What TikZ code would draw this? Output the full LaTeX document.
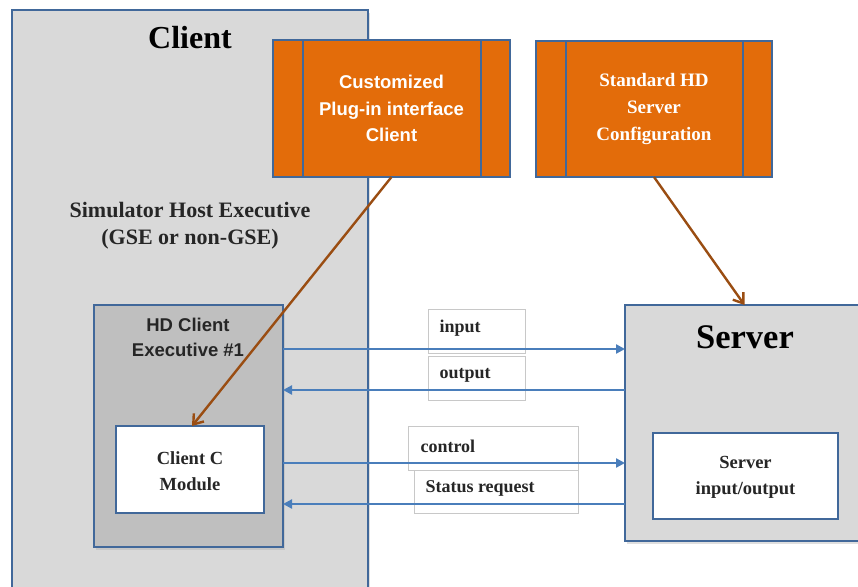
\documentclass[tikz,border=0pt]{standalone}
\usepackage{fontspec}
\setmainfont{Liberation Serif}
\setsansfont{Liberation Sans}
\usetikzlibrary{arrows.meta,shadows,calc}

\definecolor{frameblue}{HTML}{41689A}
\definecolor{linkblue}{HTML}{4A7EBB}
\definecolor{plugorange}{HTML}{E36C0A}
\definecolor{arrowbrown}{HTML}{9A4D12}
\definecolor{panelgray}{HTML}{D9D9D9}
\definecolor{execgray}{HTML}{BFBFBF}
\definecolor{labelgray}{HTML}{C8C8C8}
\definecolor{darktext}{HTML}{262626}

\tikzset{
  panel/.style={draw=frameblue, line width=2.8pt, fill=panelgray, rectangle,
    inner sep=0pt, outer sep=0pt,
    drop shadow={shadow xshift=2pt, shadow yshift=-3pt, opacity=0.25}},
  plugbox/.style={draw=frameblue, line width=2.8pt, fill=plugorange, rectangle,
    inner sep=0pt, outer sep=0pt, minimum width=237pt, minimum height=137pt},
  innerbox/.style={draw=frameblue, line width=2.8pt, fill=white, rectangle,
    inner sep=0pt, outer sep=0pt},
  tagbox/.style={draw=labelgray, line width=0.9pt, fill=white, rectangle,
    inner sep=0pt, outer sep=0pt},
  plugtext/.style={text=white, align=center, font=\sffamily\bfseries\fontsize{18.5}{26.5}\selectfont},
  stdtext/.style={text=white, align=center, font=\bfseries\fontsize{19}{27}\selectfont},
  bodytext/.style={text=darktext, align=center, font=\bfseries\fontsize{18.5}{26}\selectfont},
  tagtext/.style={text=darktext, anchor=west, font=\bfseries\fontsize{18}{20}\selectfont},
  flow/.style={draw=linkblue, line width=2.4pt, -{Triangle[length=9pt,width=9pt]}},
  feed/.style={draw=arrowbrown, line width=2.4pt, -{Straight Barb[length=9pt,width=13pt,line width=2.4pt]}},
}

\begin{document}
\begin{tikzpicture}[x=1pt,y=-1pt]
  \useasboundingbox (0,0) rectangle (858,586);
  \clip (0,0) rectangle (858,586);
  \fill[white] (0,0) rectangle (858,586);

  % client side
  \node[panel, minimum width=356pt, minimum height=590pt] (client) at (190,305) {};
  \node[font=\bfseries\fontsize{32}{36}\selectfont] (clienttitle) at (190,38) {Client};
  \node[bodytext, font=\bfseries\fontsize{22}{27}\selectfont] (simhost) at (190,226)
    {Simulator Host Executive\\(GSE or non-GSE)};

  \node[draw=frameblue, line width=2.8pt, fill=execgray, rectangle, inner sep=0pt,
    outer sep=0pt, minimum width=189pt, minimum height=242pt,
    drop shadow={shadow xshift=2pt, shadow yshift=-3pt, opacity=0.2}] (hdexec) at (188.5,426) {};
  \node[text=darktext, align=center, font=\sffamily\bfseries\fontsize{18.5}{25}\selectfont]
    (hdexectitle) at (188,337) {HD Client\\Executive \#1};
  \node[innerbox, minimum width=148pt, minimum height=87pt] (clientc) at (190,469.5) {};
  \node[bodytext] (clientctext) at (190,471) {Client C\\Module};

  % server side
  \node[panel, minimum width=245pt, minimum height=236pt] (server) at (747.5,423) {};
  \node[font=\bfseries\fontsize{34.5}{38}\selectfont] (servertitle) at (745,337) {Server};
  \node[innerbox, minimum width=185pt, minimum height=86pt] (serverio) at (745.5,476) {};
  \node[bodytext] (serveriotext) at (745.5,477) {Server\\input/output};

  % plug-in configuration blocks
  \node[plugbox] (cust) at (391.5,108.5) {};
  \draw[frameblue, line width=2.8pt]
    ([xshift=30pt]cust.north west) -- ([xshift=30pt]cust.south west)
    ([xshift=-29pt]cust.north east) -- ([xshift=-29pt]cust.south east);
  \node[plugtext] (custtext) at (391.5,108.5) {Customized\\Plug-in interface\\Client};

  \node[plugbox, minimum width=236pt, minimum height=136pt] (std) at (654,109) {};
  \draw[frameblue, line width=2.8pt]
    ([xshift=30pt]std.north west) -- ([xshift=30pt]std.south west)
    ([xshift=-29pt]std.north east) -- ([xshift=-29pt]std.south east);
  \node[stdtext] (stdtext) at (654,109) {Standard HD\\Server\\Configuration};

  % signal tags
  \node[tagbox, minimum width=97pt, minimum height=44pt] (inputtag) at (476.5,331) {};
  \node[tagbox, minimum width=97pt, minimum height=44pt] (outputtag) at (476.5,378) {};
  \node[tagbox, minimum width=164pt, minimum height=46pt] (statustag) at (496,490) {};
  \node[tagbox, minimum width=170pt, minimum height=44pt] (controltag) at (493,448) {};
  \node[tagtext] (inputlbl) at (436,328) {input};
  \node[tagtext] (outputlbl) at (436,375) {output};
  \node[tagtext] (controllbl) at (417,446) {control};
  \node[tagtext] (statuslbl) at (422,488) {Status request};

  % data flows between client executive and server
  \draw[flow] (hdexec.east |- 0,349) -- (server.west |- 0,349);
  \draw[flow] (server.west |- 0,390) -- (hdexec.east |- 0,390);
  \draw[flow] (hdexec.east |- 0,463) -- (server.west |- 0,463);
  \draw[flow] (server.west |- 0,504) -- (hdexec.east |- 0,504);

  % configuration links
  \draw[feed] (cust.south) -- ([xshift=2pt]clientc.north);
  \draw[feed] (std.south) -- ([xshift=-3pt]server.north);
\end{tikzpicture}
\end{document}
